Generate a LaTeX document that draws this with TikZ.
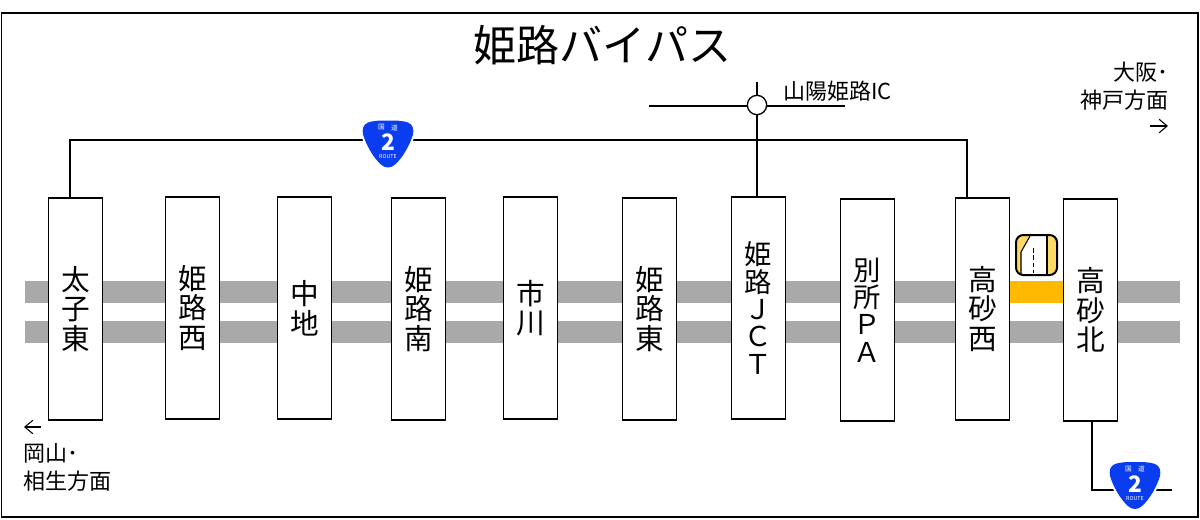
\documentclass[tikz,border=0pt]{standalone}
\usepackage{fontspec}
\usetikzlibrary{arrows.meta}
\setmainfont{Noto Sans CJK JP}
\definecolor{roadgrey}{HTML}{A9A9A9}
\definecolor{sagold}{HTML}{FFB900}
\definecolor{salight}{HTML}{FFD966}
\definecolor{shieldblue}{HTML}{0A3CF0}
\tikzset{
  stationbox/.style={draw=black,fill=white,line width=1pt,minimum width=40.5pt,minimum height=166.5pt,inner sep=0pt,outer sep=0pt,align=center,font=\fontsize{21.5}{22.2}\selectfont},
  jctbox/.style={stationbox,font=\fontsize{20.5}{20.6}\selectfont},
  conn/.style={draw=black,line width=1.3pt},
  dirarrow/.style={draw=black,line width=0.8pt,-{Straight Barb[length=6pt,width=12pt,angle'=80]}},
  roadband/.style={fill=roadgrey,draw=none},
  label/.style={inner sep=0pt,outer sep=0pt,font=\fontsize{16.5}{21}\selectfont},
  shieldmark/.pic={
    \path[preaction={draw=white,line width=3pt,line join=round},fill=shieldblue]
      (0,-24) .. controls (-8,-24) and (-14,-24) .. (-20,-22)
      .. controls (-25,-20) and (-26,-15) .. (-25,-10)
      .. controls (-22,0) and (-15,13) .. (-7,20)
      .. controls (-3,24) and (3,24) .. (7,20)
      .. controls (15,13) and (22,0) .. (25,-10)
      .. controls (26,-15) and (25,-20) .. (20,-22)
      .. controls (14,-24) and (8,-24) .. (0,-24) -- cycle;
    \node[text=white,inner sep=0pt,font=\fontsize{5}{6}\selectfont] (-kuni) at (-6.5,-17) {国};
    \node[text=white,inner sep=0pt,font=\fontsize{5}{6}\selectfont] (-michi) at (6.5,-17) {道};
    \node[text=white,inner sep=0pt,font=\bfseries\fontsize{17}{18}\selectfont] (-num) at (0,-2) {2};
    \node[text=white,inner sep=0pt,font=\fontsize{4}{5}\selectfont] (-route) at (0,12.5) {ROUTE};
  }
}
\begin{document}
\begin{tikzpicture}[x=0.75pt,y=-0.75pt]
\useasboundingbox (0,0) rectangle (1200,519);
% frame
\draw[line width=1.4pt,fill=white] (1.5,13) rectangle (1198,517);
% road
\fill[roadband] (25,281) rectangle (1180,303);
\fill[roadband] (25,321) rectangle (1180,343);
\fill[sagold] (1010,281) rectangle (1063,303);
% anchors
\coordinate (s1) at (388,144.5);
\coordinate (s2) at (1135,486);
\coordinate (trunk) at (388,140);
\coordinate (sh) at (1172,490);
\coordinate (icw) at (649,106);
\coordinate (ice) at (845,106);
\coordinate (icn) at (757,82);
\coordinate (ea) at (1150,126);
\coordinate (eb) at (1168,126);
\coordinate (wa) at (41,427);
\coordinate (wb) at (24,427);
% stations
\node[stationbox] (b1) at (75.5,309) {太\\子\\東};
\node[stationbox] (b2) at (192.5,308) {姫\\路\\西};
\node[stationbox] (b3) at (304.5,308) {中\\地};
\node[stationbox] (b4) at (418.5,309) {姫\\路\\南};
\node[stationbox] (b5) at (530.5,308) {市\\川};
\node[stationbox] (b6) at (649.5,309) {姫\\路\\東};
\node[jctbox] (b7) at (758.5,308) {姫\\路\\Ｊ\\Ｃ\\Ｔ};
\node[jctbox] (b8) at (867.5,310) {別\\所\\Ｐ\\Ａ};
\node[stationbox] (b9) at (982.5,309) {高\\砂\\西};
\node[stationbox] (b10) at (1090.5,310) {高\\砂\\北};
% junction and connectors
\draw[conn] (icw) -- (ice);
\node[circle,draw=black,fill=white,line width=1pt,minimum size=14.5pt,inner sep=0pt,outer sep=0pt] (ic) at (757,105) {};
\draw[conn] (b1.north -| 70,0) -- (70,0 |- trunk) -- (967,0 |- trunk) -- (b9.north -| 967,0);
\draw[conn] (b7.north -| ic) -- (ic.south);
\draw[conn] (icn) -- (ic.north);
\draw[conn] (b10.south -| 1092,0) |- (sh);
% shields
\pic (p1) at (s1) {shieldmark};
\pic (p2) at (s2) {shieldmark};
% rest area icon
\draw[fill=salight,draw=none,rounded corners=5.5pt] (1016,235) rectangle (1057,275);
\fill[white] (1030,236) -- (1047,236) -- (1047,274) -- (1021,274) -- (1021,252) -- cycle;
\draw[line width=0.8pt] (1030,236) -- (1021,252) -- (1021,274);
\draw[line width=0.8pt] (1047,236) -- (1047,274);
\draw[line width=1.3pt,dash pattern=on 3.5pt off 2pt] (1033.5,248) -- (1033.5,273);
\draw[line width=1.5pt,rounded corners=5.5pt] (1016,235) rectangle (1057,275);
% labels
\node[inner sep=0pt,font=\fontsize{32.3}{34}\selectfont] (title) at (602.5,45) {姫路バイパス};
\node[label,anchor=west] (iclabel) at (783,91) {山陽姫路IC};
\node[label,anchor=east] (east1) at (1168,72) {大阪･};
\node[label,anchor=east] (east2) at (1168,100) {神戸方面};
\draw[dirarrow] (ea) -- (eb);
\draw[dirarrow] (wa) -- (wb);
\node[label,anchor=west] (west2) at (23,453) {岡山･};
\node[label,anchor=west] (west3) at (23,481) {相生方面};
\end{tikzpicture}
\end{document}
